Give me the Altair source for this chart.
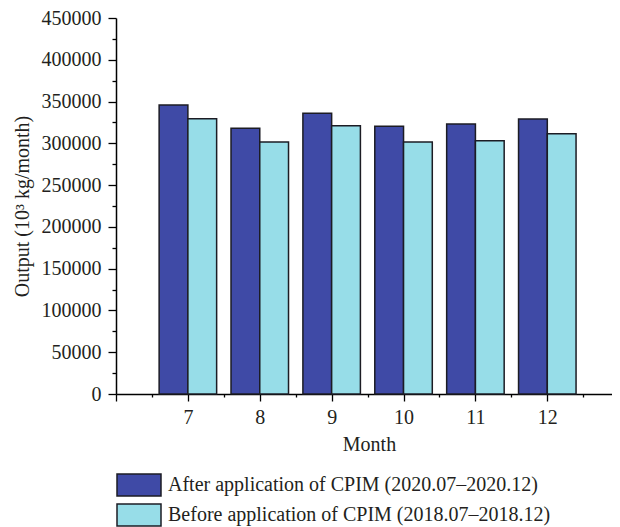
import altair as alt
import pandas as pd

months = [7, 8, 9, 10, 11, 12]
after_cpim = [346000, 318000, 336000, 320500, 323000, 329000]
before_cpim = [329500, 301500, 321000, 301500, 303000, 311500]
series = ["After application of CPIM (2020.07\u20132020.12)",
          "Before application of CPIM (2018.07\u20132018.12)"]
colors = ["#3f4aa6", "#97dde8"]

rows = []
for i, m in enumerate(months):
    rows.append({"Month": m, "Output": after_cpim[i], "Series": series[0], "idx": 0})
    rows.append({"Month": m, "Output": before_cpim[i], "Series": series[1], "idx": 1})
df = pd.DataFrame(rows)

FONT = "Liberation Serif"
TXT = "#231f20"
FS = 20

bars = alt.Chart(df).transform_calculate(
    x0="datum.Month + (datum.idx === 0 ? -0.4 : 0)",
    x1="datum.Month + (datum.idx === 0 ? 0 : 0.4)",
).mark_rect(stroke="#1c1c24", strokeWidth=1.5).encode(
    x=alt.X("x0:Q",
            scale=alt.Scale(domain=[6, 12.9], nice=False, zero=False),
            axis=alt.Axis(
                title="Month",
                titleX=253,
                values=[6 + 0.5 * k for k in range(14)],
                labelExpr="(datum.value >= 7 && datum.value <= 12 && datum.value % 1 === 0) ? datum.value : ''",
                tickSize={"condition": {"test": "datum.value % 1 === 0", "value": 7}, "value": 3},
                labelPadding=6,
                titlePadding=7,
                grid=False,
            )),
    x2="x1:Q",
    y=alt.Y("Output:Q",
            scale=alt.Scale(domain=[0, 450000], nice=False),
            axis=alt.Axis(
                title="Output (10\u00b3 kg/month)",
                values=list(range(0, 450001, 25000)),
                labelExpr="datum.value % 50000 === 0 ? datum.value : ''",
                tickSize={"condition": {"test": "datum.value % 50000 === 0", "value": 8}, "value": 4},
                labelPadding=7,
                titlePadding=9,
                grid=False,
            )),
    color=alt.Color("Series:N",
                    scale=alt.Scale(domain=series, range=colors),
                    legend=alt.Legend(
                        title=None,
                        orient="none",
                        legendX=11,
                        legendY=455,
                        direction="vertical",
                        symbolType="M-2,-1H2V1H-2Z",
                        symbolSize=484,
                        symbolStrokeColor="#1c1c24",
                        symbolStrokeWidth=1.5,
                        symbolOpacity=1,
                        labelFont=FONT,
                        labelFontSize=FS,
                        labelColor=TXT,
                        labelOffset=17,
                        labelLimit=0,
                        rowPadding=2,
                        padding=0,
                    )),
)

chart = bars.properties(
    width=496,
    height=376,
    autosize=alt.AutoSizeParams(type="none"),
    padding={"left": 108, "top": 10, "right": 0, "bottom": 133},
).configure_view(
    stroke="transparent"
).configure_axis(
    domainColor="#000000",
    domainWidth=1.5,
    tickColor="#000000",
    tickWidth=1.3,
    labelFont=FONT,
    labelFontSize=FS,
    labelColor=TXT,
    titleFont=FONT,
    titleFontSize=FS,
    titleFontWeight="normal",
    titleColor=TXT,
)

chart.save("out.html", embed_options={"renderer": "svg", "actions": False})
